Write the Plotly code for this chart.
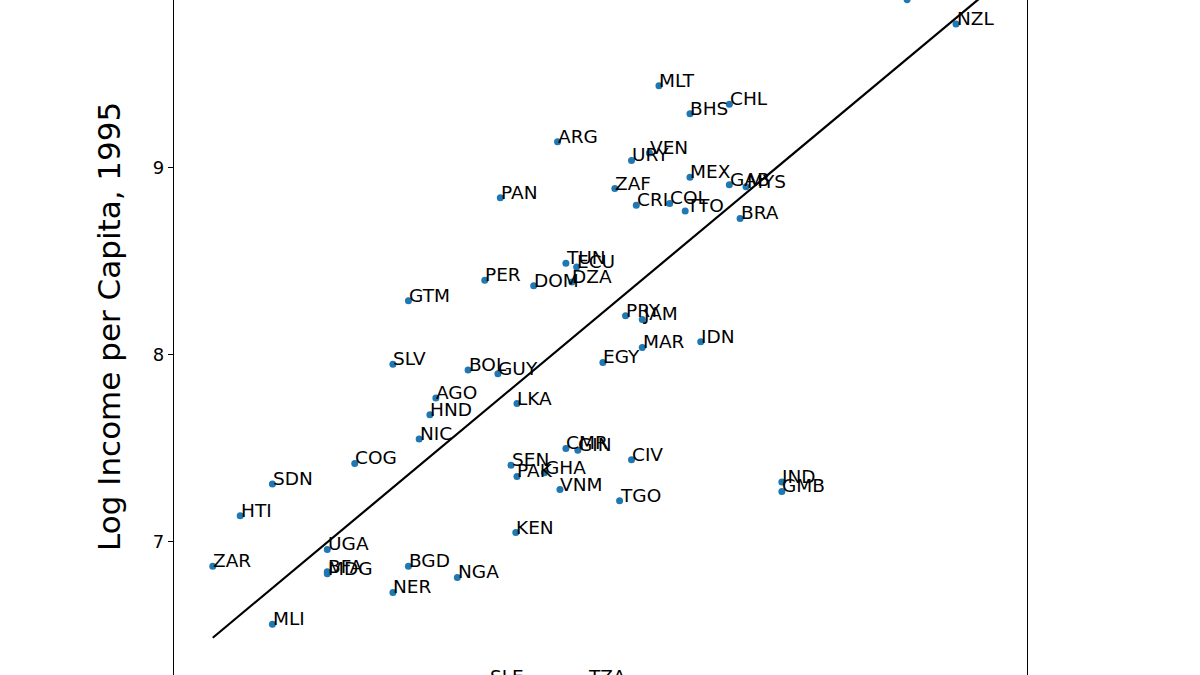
import plotly.graph_objects as go

# ---- data ----
codes = ["AUS", "NZL", "MLT", "CHL", "BHS", "ARG", "VEN", "URY", "MEX", "GAB",
         "MYS", "ZAF", "COL", "CRI", "TTO", "BRA", "PAN", "TUN", "ECU", "DZA",
         "PER", "DOM", "GTM", "PRY", "JAM", "MAR", "IDN", "EGY", "SLV", "BOL",
         "GUY", "AGO", "LKA", "HND", "NIC", "CMR", "GIN", "CIV", "SEN", "GHA",
         "PAK", "VNM", "TGO", "KEN", "COG", "SDN", "HTI", "UGA", "ZAR", "BGD",
         "BFA", "MDG", "NGA", "NER", "MLI", "IND", "GMB", "SLE", "TZA"]
avexpr = [9.32, 9.73, 7.24, 7.83, 7.50, 6.39, 7.16, 7.01, 7.50, 7.83,
          7.97, 6.87, 7.33, 7.05, 7.46, 7.92, 5.91, 6.46, 6.55, 6.51,
          5.78, 6.19, 5.14, 6.96, 7.10, 7.10, 7.59, 6.77, 5.01, 5.64,
          5.89, 5.37, 6.05, 5.32, 5.23, 6.46, 6.56, 7.01, 6.00, 6.28,
          6.05, 6.41, 6.91, 6.04, 4.69, 4.00, 3.73, 4.46, 3.50, 5.14,
          4.46, 4.46, 5.55, 5.01, 4.00, 8.27, 8.27, 5.82, 6.64]
logpgp95 = [9.90, 9.77, 9.44, 9.34, 9.29, 9.14, 9.08, 9.04, 8.95, 8.91,
            8.90, 8.89, 8.81, 8.80, 8.77, 8.73, 8.84, 8.49, 8.47, 8.39,
            8.40, 8.37, 8.29, 8.21, 8.19, 8.04, 8.07, 7.96, 7.95, 7.92,
            7.90, 7.77, 7.74, 7.68, 7.55, 7.50, 7.49, 7.44, 7.41, 7.37,
            7.35, 7.28, 7.22, 7.05, 7.42, 7.31, 7.14, 6.96, 6.87, 6.87,
            6.84, 6.83, 6.81, 6.73, 6.56, 7.32, 7.27, 6.25, 6.25]

# OLS fit: logpgp95 = const + slope * avexpr, over the data's x-extent
ols_const = 4.6261
ols_slope = 0.5319
fit_x = [3.50, 10.0]
fit_y = [ols_const + ols_slope * v for v in fit_x]

y_ticks = [7, 8, 9]
y_tick_labels = ["7", "8", "9"]
y_title = "Log Income per Capita, 1995"

# the reference is a crop of a taller axes: the frame continues below the
# window, so the figure is a little taller than the 675 px viewport
FIG_H = 700
X_RANGE = [3.175, 10.325]
Y_RANGE = [6.1547, 9.898]

FONT = "DejaVu Sans"
FS = 18.5

fig = go.Figure()

fig.add_trace(go.Scatter(
    x=avexpr, y=logpgp95, mode="markers",
    marker=dict(color="#1f77b4", size=7, line=dict(width=0)),
    hoverinfo="skip", showlegend=False,
))

fig.add_trace(go.Scatter(
    x=fit_x, y=fit_y, mode="lines",
    line=dict(color="black", width=2.2),
    hoverinfo="skip", showlegend=False,
))

for c, xv, yv in zip(codes, avexpr, logpgp95):
    fig.add_annotation(
        x=xv, y=yv, xref="x", yref="y", text=c, showarrow=False,
        xanchor="left", yanchor="bottom", xshift=-1.5, yshift=-7,
        font=dict(family=FONT, size=FS, color="black"),
    )

fig.add_annotation(
    x=-0.0763, y=1 - 326 / FIG_H, xref="paper", yref="paper", text=y_title,
    showarrow=False, textangle=-90, xanchor="center", yanchor="middle",
    font=dict(family=FONT, size=31, color="black"),
)

fig.update_layout(
    width=1200, height=FIG_H,
    margin=dict(l=174, r=173, t=0, b=0, pad=0),
    paper_bgcolor="white", plot_bgcolor="white",
    font=dict(family=FONT, size=FS, color="black"),
    showlegend=False,
)
fig.update_xaxes(range=X_RANGE, showline=False, showgrid=False, zeroline=False,
                 showticklabels=False, ticks="")
fig.update_yaxes(range=Y_RANGE, showline=True, mirror=True, linecolor="black",
                 linewidth=1.33, showgrid=False, zeroline=False,
                 tickmode="array", tickvals=y_ticks, ticktext=y_tick_labels,
                 ticks="outside", ticklen=5, tickwidth=1.33, tickcolor="black",
                 tickfont=dict(family=FONT, size=18, color="black"))

fig.write_html(
    "out.html",
    config={"displayModeBar": False},
    post_script="document.body.style.margin='0';document.body.style.overflow='hidden';",
)
